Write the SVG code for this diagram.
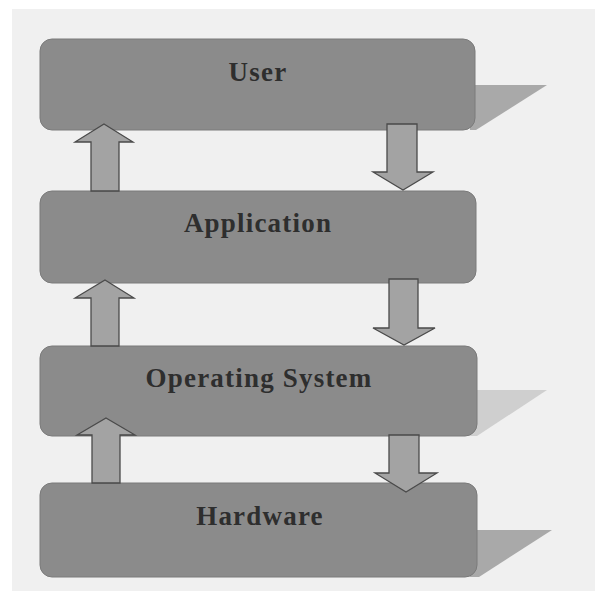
<svg xmlns="http://www.w3.org/2000/svg" width="595" height="593" viewBox="0 0 595 593">
  <style>
    .box { fill: #8b8b8b; stroke: #7a7a7a; stroke-width: 1; }
    .shadow { fill: #a9a9a9; }
    .arrow { fill: #a3a3a3; stroke: #4a4a4a; stroke-width: 1.3; stroke-linejoin: miter; }
    .label { font-family: "Liberation Serif", "Times New Roman", serif; font-weight: bold; font-size: 27px; fill: #2e2e2e; text-anchor: middle; letter-spacing: 1.2px; }
  </style>
  <rect x="0" y="0" width="595" height="593" fill="#ffffff"/>
  <rect x="12" y="9" width="583" height="582" fill="#f0f0f0"/>

  <g id="shadows">
    <polygon class="shadow" points="470,85 547,85 476,130 470,130"/>
    <polygon class="shadow" points="470,390 547,390 477,436 470,436" style="fill:#cfcfcf"/>
    <polygon class="shadow" points="470,530 552,530 479,577 470,577"/>
  </g>

  <g id="user">
    <rect class="box" x="40" y="39" width="435" height="91" rx="12" ry="12"/>
    <text class="label" x="258" y="81">User</text>
  </g>
  <g id="application">
    <rect class="box" x="40" y="191" width="436" height="92" rx="12" ry="12"/>
    <text class="label" x="258" y="232">Application</text>
  </g>
  <g id="operating-system">
    <rect class="box" x="40" y="346" width="437" height="90" rx="12" ry="12"/>
    <text class="label" x="259" y="387">Operating System</text>
  </g>
  <g id="hardware">
    <rect class="box" x="40" y="483" width="437" height="94" rx="12" ry="12"/>
    <text class="label" x="260" y="525">Hardware</text>
  </g>

  <g id="connectors">
    <polygon class="arrow" points="104,124 133,142 119,142 119,191 91,191 91,142 75,142"/>
    <polygon class="arrow" points="105,280 134,298 119,298 119,346 91,346 91,298 75,298"/>
    <polygon class="arrow" points="106,418 135,435 120,435 120,483 92,483 92,435 77,435"/>
    <polygon class="arrow" points="387,124 417,124 417,172 433,172 403,190 373,172 387,172"/>
    <polygon class="arrow" points="389,279 418,279 418,328 435,328 404,345 373,328 389,328"/>
    <polygon class="arrow" points="389,435 419,435 419,473 437,473 406,492 375,473 389,473"/>
  </g>
</svg>
